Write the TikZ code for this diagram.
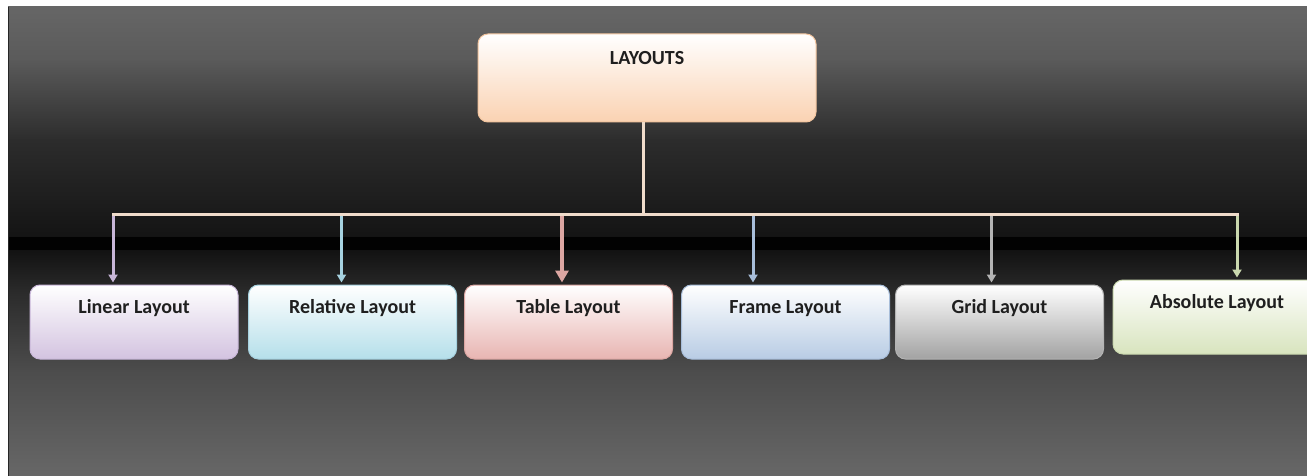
\documentclass[tikz,border=0pt]{standalone}
\usepackage{fontspec}
\setmainfont{Carlito}
\usetikzlibrary{arrows.meta}
\definecolor{bgA}{HTML}{666666}
\definecolor{bgA2}{HTML}{5A5A5A}
\definecolor{bgB}{HTML}{2C2C2C}
\definecolor{bgC}{HTML}{141414}
\definecolor{bgD}{HTML}{020202}
\definecolor{bgE}{HTML}{121212}
\definecolor{bgE2}{HTML}{2A2A2A}
\definecolor{bgF}{HTML}{4C4C4C}
\definecolor{bgG}{HTML}{676767}
\definecolor{cPeach}{HTML}{FAD2B2}
\definecolor{ePeach}{HTML}{F2C49E}
\definecolor{cLav}{HTML}{D3C3E0}
\definecolor{eLav}{HTML}{C8B6D8}
\definecolor{cBlue}{HTML}{B5DFEA}
\definecolor{eBlue}{HTML}{A6D2E0}
\definecolor{cPink}{HTML}{E8B5B2}
\definecolor{ePink}{HTML}{DCA6A2}
\definecolor{cSteel}{HTML}{B8CCE4}
\definecolor{eSteel}{HTML}{A8BEDA}
\definecolor{cGray}{HTML}{A2A2A2}
\definecolor{eGray}{HTML}{B4B4B4}
\definecolor{cGreen}{HTML}{D8E4BE}
\definecolor{eGreen}{HTML}{CAD8AE}
\definecolor{busC}{HTML}{F0DCCB}
\begin{document}
\begin{tikzpicture}[x=1pt,y=-1pt,
  box/.style={rectangle,rounded corners=10pt,draw=#1,line width=1pt,
    minimum width=208pt,minimum height=74pt,inner sep=0pt,
    text height=14pt,text depth=31pt,
    font=\fontsize{20}{22}\selectfont\bfseries,text=black!88},
  conn/.style={line width=3pt,draw=#1},
  tip/.style={line width=3pt,draw=#1,
    -{Triangle[length=8pt,width=9pt]},shorten >=2pt}
]
\useasboundingbox (0,0) rectangle (1307,476);
\clip (0,0) rectangle (1307,476);
% background
\fill[white] (0,0) rectangle (1307,476);
\shade[top color=bgA,bottom color=bgA2] (8,7) rectangle (1307,61);
\shade[top color=bgA2,bottom color=bgB] (8,60) rectangle (1307,141);
\shade[top color=bgB,bottom color=bgC] (8,140) rectangle (1307,238);
\shade[top color=bgD,bottom color=bgD] (8,237) rectangle (1307,251);
\shade[top color=bgE,bottom color=bgE2] (8,250) rectangle (1307,291);
\shade[top color=bgE2,bottom color=bgF] (8,290) rectangle (1307,371);
\shade[top color=bgF,bottom color=bgG] (8,370) rectangle (1307,476);
\draw[black!60,line width=1pt] (8,6.5) -- (1307,6.5);
\draw[black!85,line width=1.5pt] (8.5,7) -- (8.5,476);
% nodes
\node[box=ePeach,top color=white,bottom color=cPeach,minimum width=338pt,
  minimum height=88pt,text depth=41pt] (lay) at (647,78) {LAYOUTS};
\node[box=eLav,top color=white,bottom color=cLav] (lin) at (134,322) {Linear Layout};
\node[box=eBlue,top color=white,bottom color=cBlue] (rel) at (352.5,322) {Relative Layout};
\node[box=ePink,top color=white,bottom color=cPink] (tab) at (568.5,322) {Table Layout};
\node[box=eSteel,top color=white,bottom color=cSteel] (fra) at (785.5,322) {Frame Layout};
\node[box=eGray,top color=white,bottom color=cGray] (gri) at (999.5,322) {Grid Layout};
\node[box=eGreen,top color=white,bottom color=cGreen] (abs) at (1217,317) {Absolute Layout};
% bus coordinates
\coordinate (hub) at (643,214.5);
\coordinate (b1) at (113,214.5);
\coordinate (b2) at (341.5,214.5);
\coordinate (b3) at (562,214.5);
\coordinate (b4) at (753,214.5);
\coordinate (b5) at (991.5,214.5);
\coordinate (b6) at (1237,214.5);
% arrows
\draw[tip=eLav] (b1) -- (b1 |- lin.north);
\draw[tip=eBlue,line width=3.5pt] (b2) -- (b2 |- rel.north);
\draw[line width=3.5pt,draw=ePink,-{Triangle[length=12pt,width=13pt]},shorten >=2pt] (b3) -- (b3 |- tab.north);
\draw[tip=eSteel] (b4) -- (b4 |- fra.north);
\draw[tip=eGray] (b5) -- (b5 |- gri.north);
\draw[tip=eGreen] (b6) -- (b6 |- abs.north);
% trunk and bus
\draw[conn=busC] (hub |- lay.south) -- (hub);
\draw[conn=busC,line cap=rect] (b1) -- (b6);
\end{tikzpicture}
\end{document}
